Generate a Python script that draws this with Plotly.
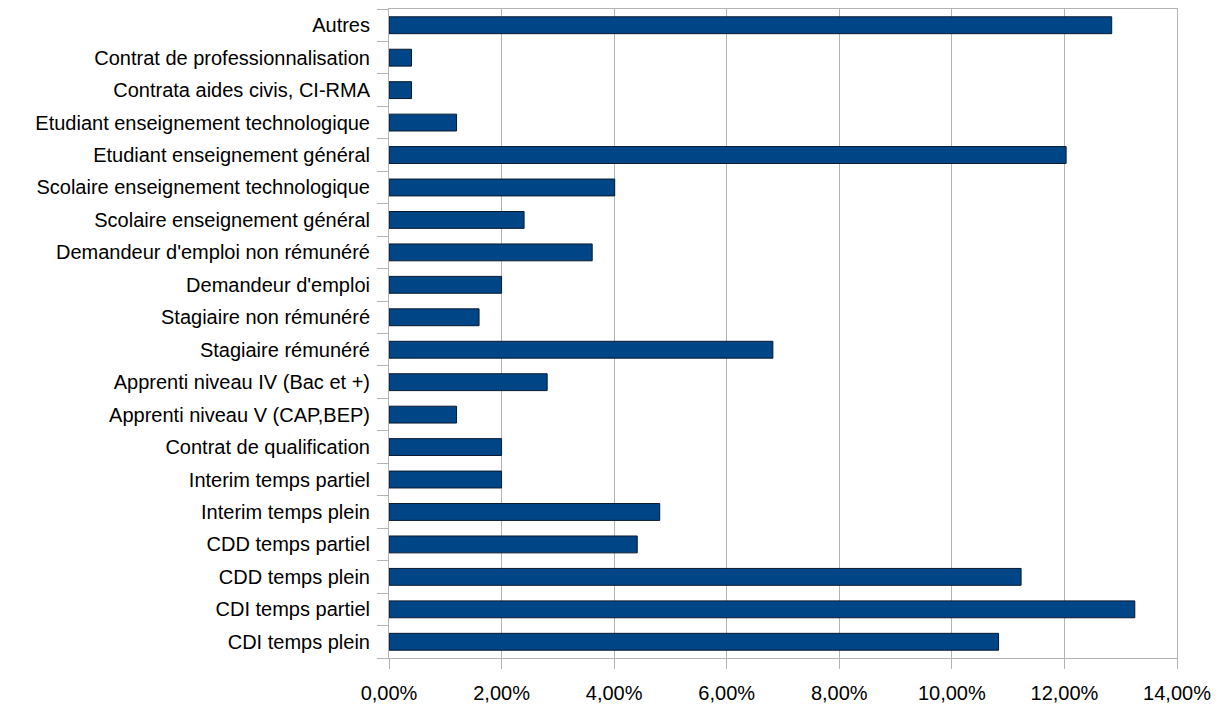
import plotly.graph_objects as go

categories = [
    "CDI temps plein", "CDI temps partiel", "CDD temps plein", "CDD temps partiel",
    "Interim temps plein", "Interim temps partiel", "Contrat de qualification",
    "Apprenti niveau V (CAP,BEP)", "Apprenti niveau IV (Bac et +)", "Stagiaire rémunéré",
    "Stagiaire non rémunéré", "Demandeur d'emploi", "Demandeur d'emploi non rémunéré",
    "Scolaire enseignement général", "Scolaire enseignement technologique",
    "Etudiant enseignement général", "Etudiant enseignement technologique",
    "Contrata aides civis, CI-RMA", "Contrat de professionnalisation", "Autres",
]
values = [
    0.1083, 0.1325, 0.1123, 0.0441, 0.0481, 0.0200, 0.0200, 0.0120, 0.0281, 0.0682,
    0.0160, 0.0200, 0.0361, 0.0240, 0.0401, 0.1203, 0.0120, 0.0040, 0.0040, 0.1284,
]
x_ticks = [0, 0.02, 0.04, 0.06, 0.08, 0.10, 0.12, 0.14]
x_labels = ["0,00%", "2,00%", "4,00%", "6,00%", "8,00%", "10,00%", "12,00%", "14,00%"]

fig = go.Figure(go.Bar(
    y=categories, x=values, orientation="h",
    marker=dict(color="#004586", line=dict(color="#0a1a2e", width=1)),
    width=0.52,
))

fig.update_layout(
    width=1205, height=696,
    margin=dict(l=381, r=36, t=1, b=46),
    paper_bgcolor="white", plot_bgcolor="white",
    font=dict(family="Liberation Sans, Arial, sans-serif", size=20, color="black"),
    showlegend=False,
)
fig.update_xaxes(
    range=[0, 0.14], tickvals=x_ticks, ticktext=x_labels,
    showgrid=True, gridcolor="#b3b3b3", gridwidth=1,
    showline=True, linecolor="#b3b3b3", mirror=True,
    ticks="outside", ticklen=10, tickcolor="#b3b3b3",
    zeroline=False, ticklabelstandoff=7, automargin=False,
)
fig.update_yaxes(
    categoryorder="array", categoryarray=categories,
    range=[-0.5, len(categories) - 0.5],
    showgrid=False,
    showline=True, linecolor="#b3b3b3", mirror=True,
    ticks="outside", ticklen=11, tickcolor="#b3b3b3", tickson="boundaries",
    ticklabelstandoff=14, automargin=False,
)

fig.write_html("out.html")
